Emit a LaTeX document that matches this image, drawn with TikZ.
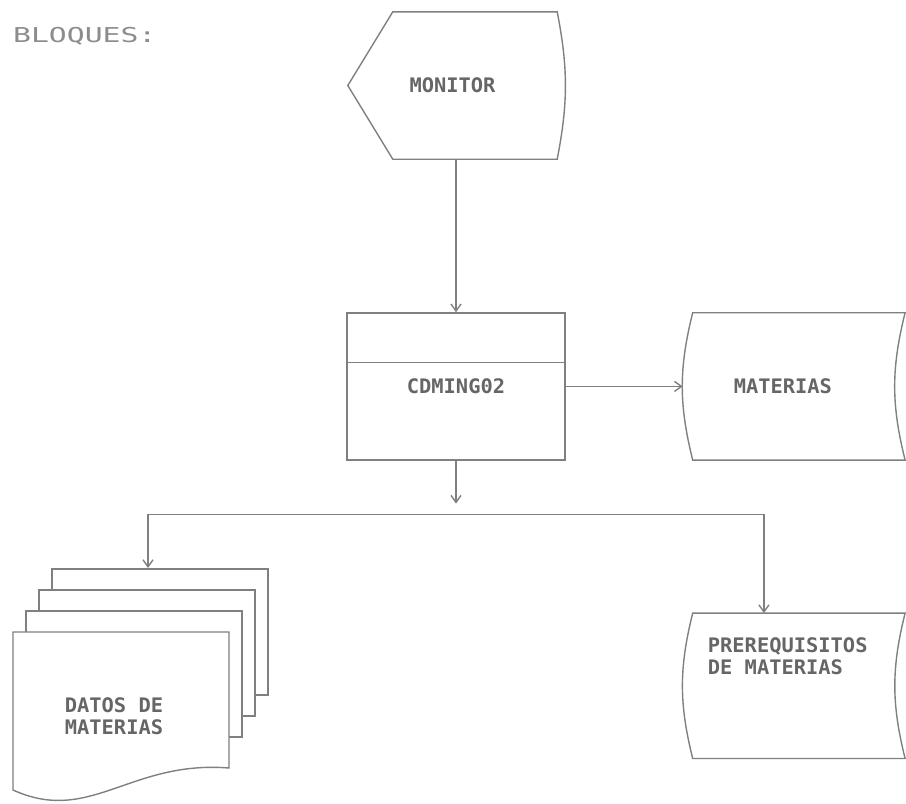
\documentclass[tikz,border=0pt]{standalone}
\usepackage{fontspec}
\newfontfamily\dotfont[FakeStretch=1.02]{DejaVu Sans Mono}
\newfontfamily\blqfont[FakeStretch=1.45]{DejaVu Sans Mono}
\usetikzlibrary{arrows.meta,positioning}

\begin{document}
\begin{tikzpicture}[x=1pt,y=-1pt,
        every node/.style={inner sep=0pt,font=\dotfont\bfseries\fontsize{20}{22}\selectfont,text=black!60},
        line/.style={draw=black!50,line width=1.4pt},
        arr/.style={line,-{Straight Barb[length=7pt,width=10pt]}},
        box/.style={line,minimum width=218pt,minimum height=147pt},
        store/.style={minimum width=212pt,minimum height=147pt}
      ]
  \useasboundingbox (0,0) rectangle (906,804);

  \node (bloques) [anchor=west,font=\blqfont\fontsize{20.5}{24}\selectfont,text=black!45] at (13,36) {BLOQUES:};

  \node (monitor) [minimum width=209pt,minimum height=147pt] at (452.5,85.5) {MONITOR};
  \draw[line] (monitor.west) -- ([xshift=45pt]monitor.north west) -- (monitor.north east)
    to[bend left=11] (monitor.south east) -- ([xshift=45pt]monitor.south west) -- cycle;

  \node (cdming) [box,below=153pt of monitor,xshift=3.5pt] {CDMING02};
  \draw[line] ([yshift=-50pt]cdming.north west) -- ([yshift=-50pt]cdming.north east);
  \draw[arr] (monitor.south -| cdming.north) -- (cdming.north);

  \node (mat) [store,right=127pt of cdming] {};
  \node (mattxt) at ([xshift=-16pt]mat.center) {MATERIAS};
  \draw[line] (mat.north west) to[bend right=14] (mat.south west) -- (mat.south east)
    to[bend left=14] (mat.north east) -- cycle;
  \draw[arr] (cdming.east) -- ([xshift=-10pt]mat.west);

  \node (prereq) [store,below=153pt of mat,minimum height=145pt] {};
  \node (prtxt) [anchor=north west,align=left] at ([shift={(15,24)}]prereq.north west) {PREREQUISITOS\\DE MATERIAS};
  \draw[line] (prereq.north west) to[bend right=14] (prereq.south west) -- (prereq.south east)
    to[bend left=14] (prereq.north east) -- cycle;

  % pila de hojas
  \coordinate (docnw) at (13,632);
  \foreach \i in {3,2,1}
    \draw[line,fill=white] ([shift={(13*\i,-21*\i)}]docnw) rectangle ++(216,126);
  \draw[line,fill=white] (docnw) -- ++(216,0) -- ++(0,136)
    .. controls +(-99,-8) and +(77,35) .. ([yshift=-158pt]docnw) -- cycle;
  \node (datos) [align=center] at ([shift={(101,84)}]docnw) {DATOS DE\\MATERIAS};
  \coordinate (pagetop) at ([shift={(135,-64)}]docnw);

  \coordinate (bus) at ([yshift=-54pt]cdming.south);
  \draw[arr] (cdming.south) -- ([yshift=-43pt]cdming.south);
  \draw[arr] (bus) -| (pagetop);
  \draw[arr] (bus) -| ([xshift=-35pt]prereq.north);

\end{tikzpicture}
\end{document}
